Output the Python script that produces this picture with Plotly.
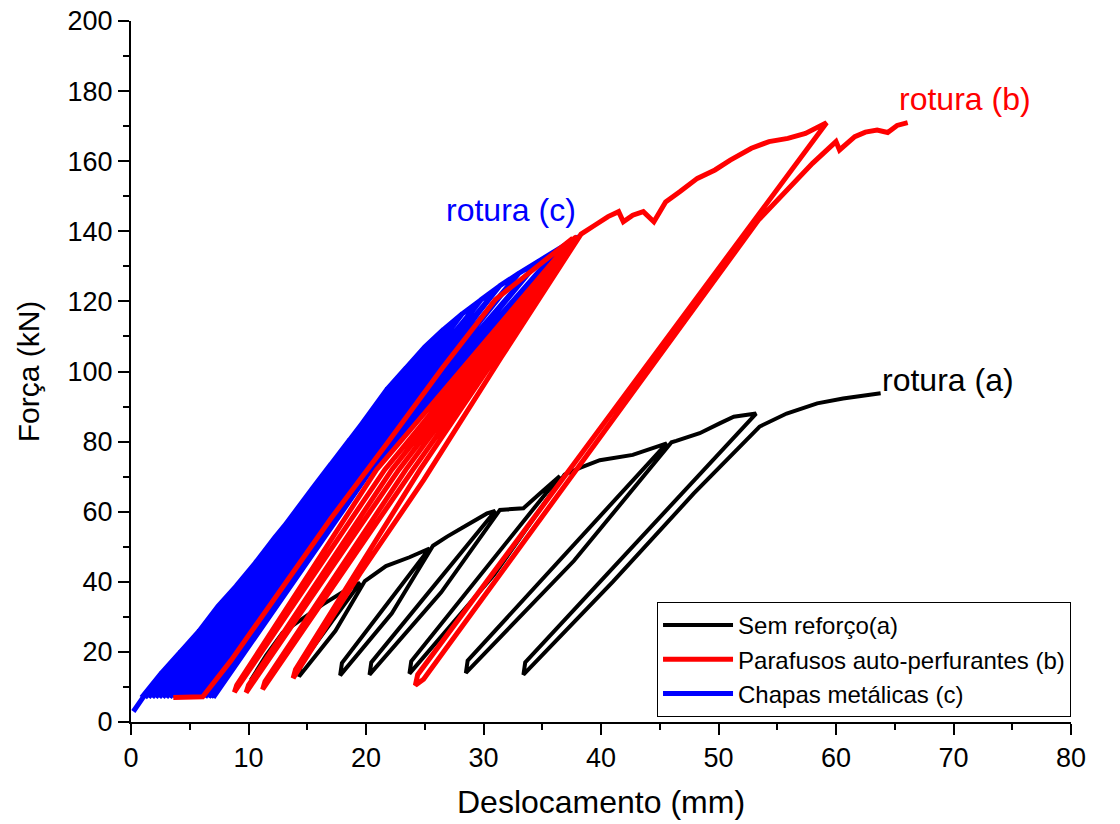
import plotly.graph_objects as go

# Ensaio cíclico força-deslocamento: três ligações
# (a) sem reforço, (b) parafusos auto-perfurantes, (c) chapas metálicas

# --- (a) Sem reforço: curva de carga com seis ciclos de descarga/recarga ---
desl_a = [10.2, 11.5, 12.9, 14.6, 16.3, 18.0, 19.5,
          14.45, 14.3, 17.4, 19.9,
          21.7, 23.7, 25.4,
          17.95, 17.8, 22.2, 25.7,
          26.9, 28.6, 30.3, 31.0,
          20.45, 20.3, 26.4, 31.4,
          32.2, 33.4, 34.8, 36.5,
          23.85, 23.7, 30.9, 36.9,
          38.2, 39.9, 42.7, 44.7, 45.6,
          28.65, 28.5, 37.7, 46.0,
          46.4, 48.4, 50.1, 51.3, 53.2,
          33.55, 33.4, 41.0, 47.9, 49.9, 52.1, 53.5, 55.8, 58.4, 60.6, 62.5, 63.8]
forca_a = [12.0, 19.0, 25.5, 29.5, 33.5, 37.0, 39.7,
           16.5, 13.0, 26.0, 40.2,
           44.5, 47.0, 49.5,
           16.8, 13.3, 31.0, 50.3,
           52.9, 56.2, 59.5, 60.2,
           17.0, 13.5, 37.0, 60.5,
           60.7, 61.0, 65.2, 70.2,
           17.3, 13.8, 42.0, 70.6,
           72.5, 74.7, 76.2, 78.5, 79.5,
           17.5, 14.0, 46.0, 79.8,
           80.2, 82.4, 85.2, 87.1, 88.0,
           17.0, 13.5, 40.0, 65.2, 71.9, 79.5, 84.3, 88.0, 90.9, 92.3, 93.3, 93.8]

# --- (b) Parafusos auto-perfurantes ---
desl_b = [3.6, 6.1, 8.5, 12.7, 17.0, 21.8, 26.5, 31.0, 34.5, 37.6,
          20.9, 9.0, 8.8,
          21.6, 37.8,
          22.2, 10.0, 9.8,
          22.8, 37.9,
          23.4, 11.4, 11.2,
          24.0, 38.0,
          24.6, 14.0, 13.8,
          19.5, 24.9, 31.5, 38.3,
          39.5, 40.6, 41.5, 41.9, 42.7, 43.6, 44.5, 45.5, 46.7, 48.2, 49.7,
          51.0, 52.8, 54.3, 55.9, 57.4, 59.2,
          24.4, 24.2, 24.9,
          53.4, 58.0, 60.0, 60.3, 61.6, 62.5, 63.5, 64.4, 65.2, 66.1]
forca_b = [7.0, 7.2, 17.5, 37.5, 58.0, 79.5, 101.0, 120.5, 130.0, 138.0,
           72.0, 10.5, 8.5,
           72.0, 138.3,
           72.0, 10.5, 8.4,
           72.0, 138.5,
           72.0, 11.5, 9.3,
           72.0, 138.6,
           72.0, 15.0, 12.5,
           42.4, 69.0, 104.0, 139.2,
           141.8, 144.2, 145.6, 142.7, 144.6, 145.6, 142.7, 148.4, 151.3, 155.1, 157.5,
           160.3, 163.7, 165.6, 166.5, 167.9, 171.0,
           13.5, 10.5, 12.2,
           143.2, 159.4, 165.6, 163.2, 167.0, 168.3, 168.9, 168.2, 170.2, 171.0]

# --- (c) Chapas metálicas: ciclos sucessivos, descarga até ~7 kN ---
# cada ciclo: pico -> meio da descarga -> vale -> meio da recarga -> pico
desl_c = [0.2, 0.7, 1.6,
          2.6, 1.75, 0.9, 2.05, 2.6,
          4.2, 2.7, 1.2, 3.0, 4.2,
          5.8, 3.6, 1.5, 3.95, 5.8,
          7.4, 4.45, 1.8, 4.9, 7.4,
          9.0, 5.3, 2.1, 5.85, 9.0,
          10.6, 6.15, 2.4, 6.8, 10.6,
          12.2, 7.05, 2.7, 7.75, 12.2,
          13.8, 7.9, 3.0, 8.7, 13.8,
          15.4, 8.8, 3.3, 9.65, 15.4,
          17.0, 9.65, 3.6, 10.6, 17.0,
          18.6, 10.55, 3.9, 11.55, 18.6,
          20.2, 11.35, 4.2, 12.5, 20.2,
          21.8, 12.25, 4.5, 13.45, 21.8,
          23.4, 12.95, 4.8, 13.6, 23.4,
          25.0, 13.55, 5.1, 14.15, 25.0,
          26.6, 14.3, 5.4, 14.9, 26.6,
          28.2, 15.15, 5.7, 15.8, 28.2,
          29.8, 16.0, 6.0, 16.65, 29.8,
          31.4, 16.9, 6.3, 17.55, 31.4,
          33.0, 17.8, 6.6, 18.45, 33.0,
          34.7, 18.7, 6.8, 19.35, 34.7,
          36.4, 19.6, 7.0, 20.25, 36.4,
          38.1]
forca_c = [3.0, 5.5, 9.8,
           14.0, 10.5, 7.0, 10.5, 14.0,
           20.0, 13.5, 7.0, 13.5, 20.0,
           26.0, 16.5, 7.0, 16.5, 26.0,
           33.0, 20.0, 7.0, 20.0, 33.0,
           39.0, 23.0, 7.0, 23.0, 39.0,
           45.5, 26.2, 7.0, 26.2, 45.5,
           52.5, 29.8, 7.0, 29.8, 52.5,
           59.0, 33.0, 7.0, 33.0, 59.0,
           66.5, 36.8, 7.0, 36.8, 66.5,
           73.5, 40.2, 7.0, 40.2, 73.5,
           80.5, 43.8, 7.0, 43.8, 80.5,
           87.5, 47.2, 7.0, 47.2, 87.5,
           95.0, 51.0, 7.0, 51.0, 95.0,
           101.0, 54.0, 7.0, 54.0, 101.0,
           107.0, 57.0, 7.0, 57.0, 107.0,
           112.0, 59.5, 7.0, 59.5, 112.0,
           116.5, 61.8, 7.0, 61.8, 116.5,
           120.5, 63.8, 7.0, 63.8, 120.5,
           124.5, 65.8, 7.0, 65.8, 124.5,
           128.0, 67.5, 7.0, 67.5, 128.0,
           131.5, 69.2, 7.0, 69.2, 131.5,
           135.0, 71.0, 7.0, 71.0, 135.0,
           138.5]

nomes = ["Sem reforço(a)", "Parafusos auto-perfurantes (b)", "Chapas metálicas (c)"]
cores = ["#000000", "#ff0000", "#0000ff"]

rotulos = ["rotura (a)", "rotura (b)", "rotura (c)"]
rotulo_x = [69.5, 71.0, 32.3]
rotulo_y = [97.6, 177.7, 146.1]

FONT = "Liberation Sans, Arial, Helvetica, sans-serif"

fig = go.Figure()
# stacking: blue underneath, then black, red on top
fig.add_trace(go.Scatter(x=desl_c, y=forca_c, mode="lines", name=nomes[2],
                         line=dict(color=cores[2], width=5), legendrank=3))
fig.add_trace(go.Scatter(x=desl_a, y=forca_a, mode="lines", name=nomes[0],
                         line=dict(color=cores[0], width=4), legendrank=1))
fig.add_trace(go.Scatter(x=desl_b, y=forca_b, mode="lines", name=nomes[1],
                         line=dict(color=cores[1], width=5), legendrank=2))

for txt, xv, yv, c in zip(rotulos, rotulo_x, rotulo_y, cores):
    fig.add_annotation(x=xv, y=yv, text=txt, showarrow=False,
                       xanchor="center", yanchor="middle",
                       font=dict(family=FONT, size=32, color=c))

axis_common = dict(
    showgrid=False, zeroline=False, showline=True, linecolor="black", linewidth=2,
    ticks="outside", ticklen=11, tickwidth=2, tickcolor="black",
    tickfont=dict(family=FONT, size=27, color="black"),
    mirror=False,
)

fig.update_xaxes(range=[0, 80], tick0=0, dtick=10,
                 minor=dict(ticks="outside", ticklen=6, tickwidth=2, dtick=5, tickcolor="black"),
                 title=dict(text="Deslocamento (mm)", font=dict(family=FONT, size=32, color="black"),
                            standoff=18),
                 **axis_common)
fig.update_yaxes(range=[0, 200], tick0=0, dtick=20,
                 minor=dict(ticks="outside", ticklen=6, tickwidth=2, dtick=10, tickcolor="black"),
                 title=dict(text="Força (kN)", font=dict(family=FONT, size=30, color="black"),
                            standoff=19),
                 **axis_common)

fig.update_layout(
    width=1120, height=824,
    margin=dict(l=131, r=49, t=21, b=102, autoexpand=False),
    plot_bgcolor="white", paper_bgcolor="white",
    font=dict(family=FONT, color="black"),
    showlegend=True,
    legend=dict(x=0.5596, y=0.1712, xanchor="left", yanchor="top",
                bgcolor="white", bordercolor="black", borderwidth=1,
                font=dict(family=FONT, size=24, color="black"),
                itemwidth=70, tracegroupgap=0),
)

fig.write_html("out.html")
